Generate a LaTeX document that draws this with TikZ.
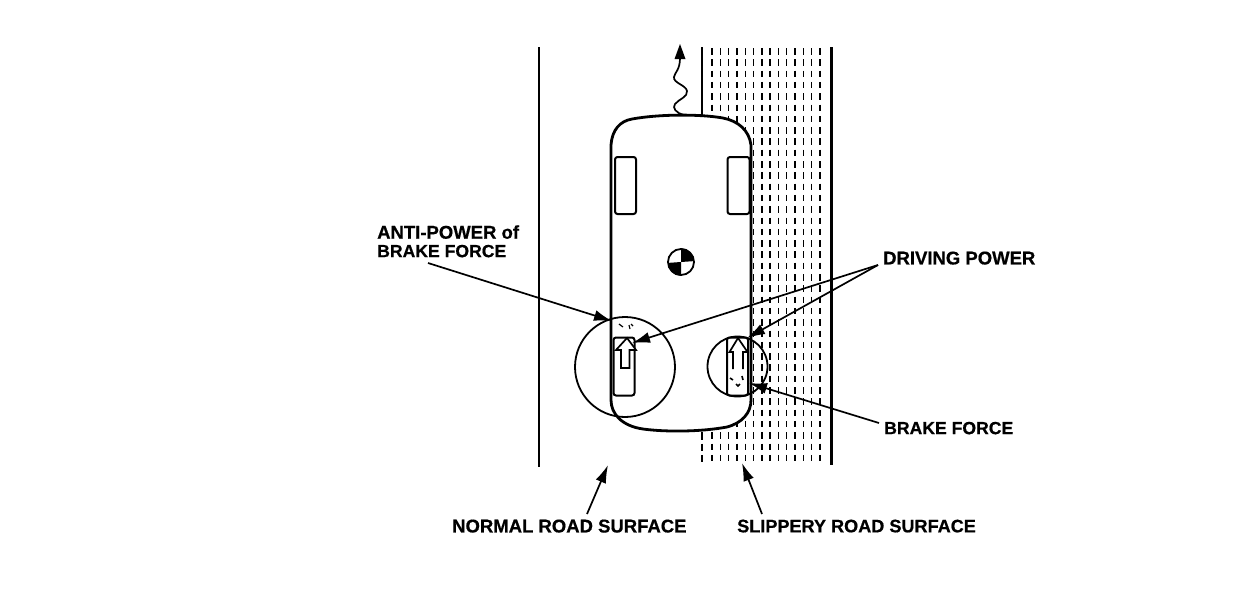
\documentclass[tikz,border=0pt]{standalone}
\usepackage{fontspec}
\setmainfont{Liberation Sans}[BoldFeatures={FakeBold=0.6}]
\usetikzlibrary{arrows.meta}
\tikzset{
 thick line/.style={line width=2.8pt},
 outline/.style={line width=2.8pt,line join=round},
 tyre/.style={draw,line width=2pt,fill=white,rounded corners=2.5pt},
 lens/.style={draw,line width=1.8pt},
 leader/.style={line width=1.7pt,-{Latex[length=18pt,width=11pt]}},
 label/.style={font=\bfseries\fontsize{18.5}{19}\selectfont,inner sep=0pt,anchor=west,align=left,text depth=0pt},
 tightlabel/.style={label,font=\bfseries\fontsize{17.6}{19}\selectfont},
 sliplabel/.style={label,font=\bfseries\fontsize{18.1}{19}\selectfont},
 roaddash/.style={line width=1.25pt},
 hollow/.style={draw,line width=1.7pt,fill=white,line join=miter},
}
\begin{document}
\begin{tikzpicture}[x=1pt,y=-1pt]
\useasboundingbox[fill=white] (0,0) rectangle (1248,614);
% road surface
\foreach \x in {712,720.4,728.6,737,745.2,753.5,762,770,778.4,786.8,795,803.4,811.8,820}{
  \foreach \y in {48,59.3,70.6,81.9,93.2,104.5,115.8,127.1,138.4,149.7,161,172.3,183.6,194.9,206.2,217.5,228.8,240.1,251.4,262.7,274,285.3,296.6,307.9,319.2,330.5,341.8,353.1,364.4,375.7,387,398.3,409.6,420.9,432.2,443.5,454.8}{
    \draw[roaddash] (\x,\y) -- ++(0,6.5);
  }
}
\coordinate (roadLtop) at (538.5,47);
\coordinate (roadLbot) at (538.5,467);
\coordinate (roadRtop) at (831.5,47);
\coordinate (roadRbot) at (831.5,465);
\draw[line width=2pt] (roadLtop) -- (roadLbot);
\draw[thick line] (roadRtop) -- (roadRbot);
\foreach \y in {432.2,443.5,454.8}{
  \draw[roaddash] (702,\y) -- ++(0,7.5);
}
\draw[line width=1.3pt] (702,47) -- (702,115);
% car body
\draw[outline,fill=white] (611,340) -- (611,145)
  .. controls (612,130) and (620,121) .. (632,119)
  .. controls (660,114) and (700,114) .. (723,118)
  .. controls (738,121) and (749,130) .. (751,145)
  -- (751,400)
  .. controls (751,413) and (742,423) .. (727,427)
  .. controls (700,432) and (665,432) .. (643,429)
  .. controls (622,426) and (611,414) .. (611,400) -- cycle;
% wavy arrow
\coordinate (wavestart) at (684,115);
\coordinate (wavetip) at (680,44);
\draw[line width=1.7pt] (wavestart)
  .. controls (676,113) and (672,108) .. (675,104)
  .. controls (679,99) and (688,97) .. (687,91)
  .. controls (686,85) and (673,83) .. (674,77)
  .. controls (675,72) and (680,70) .. (680,58);
\fill (wavetip) -- (685.5,59) -- (674.5,59) -- cycle;
% tyres
\node[tyre,minimum width=21pt,minimum height=57pt,inner sep=0pt] (tyreFL) at (625.5,185.5) {};
\node[tyre,minimum width=22pt,minimum height=57pt,inner sep=0pt] (tyreFR) at (738.5,185.5) {};
\node[tyre,minimum width=21pt,minimum height=58pt,inner sep=0pt] (tyreRL) at (624,366.5) {};
\node[tyre,minimum width=21pt,minimum height=58pt,inner sep=0pt] (tyreRR) at (737.5,366.5) {};
% lenses
\node[lens,circle,minimum size=100pt,inner sep=0pt] (lensL) at (625,367) {};
\node[lens,circle,minimum size=60pt,inner sep=0pt] (lensR) at (737.5,366.5) {};
% hollow arrows
\draw[hollow] (627,338) -- (636,350) -- (629.5,350) -- (629.5,368) -- (621,368) -- (621,350) -- (616,350) -- cycle;
\draw[hollow] (743,369) -- (743,352) -- (747.5,352) -- (738,338) -- (729.5,352) -- (733,352) -- (733,369);
% small force marks
\draw[line width=1.2pt] (619,324) -- (623,327);
\draw[line width=1.2pt] (629,325) -- (630,329);
\draw[line width=1.2pt] (631,324) -- (633,326);
\draw[line width=1.6pt] (730,378) -- (733,380);
\draw[line width=1.6pt] (742,376) -- (743,380);
\draw[line width=1.6pt] (736,384) -- (738,386) -- (740,384);
% centre of gravity
\node[draw,line width=1.8pt,circle,minimum size=26pt,inner sep=0pt] (cg) at (681,262) {};
\fill (cg.center) -- (cg.north) arc[start angle=90,end angle=0,radius=13pt] -- cycle;
\fill (cg.center) -- (cg.south) arc[start angle=270,end angle=180,radius=13pt] -- cycle;
% labels
\node[label] (anti) at (377,232) {ANTI-POWER of};
\node[tightlabel] (anti2) at (377,251) {BRAKE FORCE};
\node[label] (drive) at (883,258) {DRIVING POWER};
\node[tightlabel] (brake) at (884,428) {BRAKE FORCE};
\node[label] (normal) at (452,526) {NORMAL ROAD SURFACE};
\node[sliplabel] (slip) at (737,526) {SLIPPERY ROAD SURFACE};
% leaders
\coordinate (antiS) at (428,263);
\coordinate (antiE) at (612,321);
\coordinate (driveS) at (878,265);
\coordinate (driveL) at (632,343);
\coordinate (driveR) at (747,338);
\coordinate (brakeS) at (879,423);
\coordinate (brakeE) at (749,383);
\coordinate (normS) at (587,514);
\coordinate (normE) at (608,465);
\coordinate (slipS) at (762,514);
\coordinate (slipE) at (742,463);
\draw[leader] (antiS) -- (antiE);
\draw[leader] (driveS) -- (driveL);
\draw[leader] (driveS) -- (driveR);
\draw[leader] (brakeS) -- (brakeE);
\draw[leader] (normS) -- (normE);
\draw[leader] (slipS) -- (slipE);
\end{tikzpicture}
\end{document}
